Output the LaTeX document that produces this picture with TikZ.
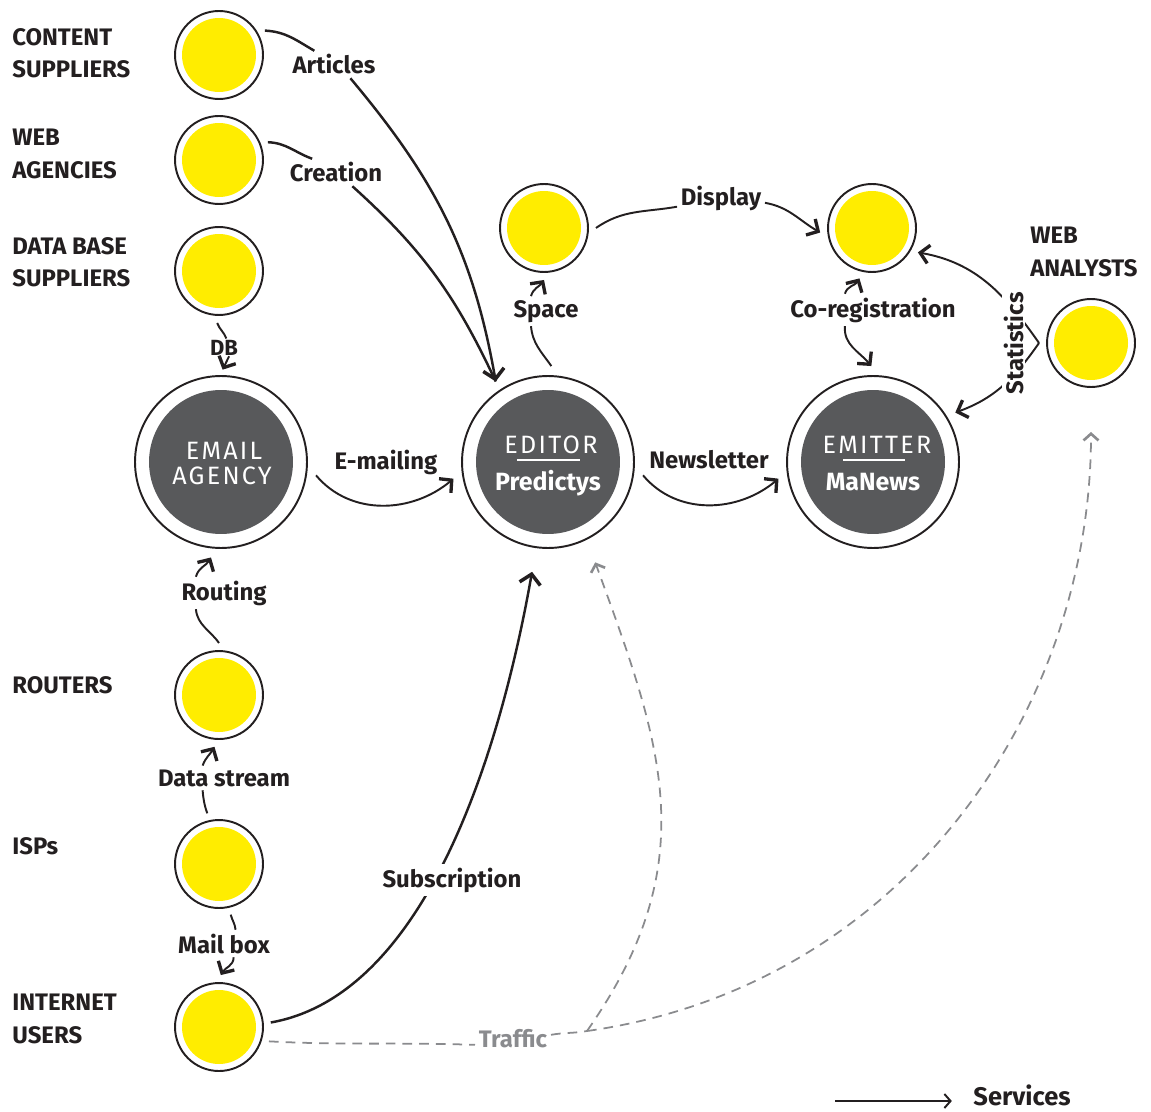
\documentclass[tikz,border=0pt]{standalone}
\usepackage{fontspec}
\setmainfont{Fira Sans}
\usetikzlibrary{arrows.meta}
\definecolor{yel}{HTML}{FFED00}
\definecolor{dk}{HTML}{58595B}
\definecolor{ink}{HTML}{231F20}
\definecolor{gr}{HTML}{8A8B8E}
\tikzset{
  smallnode/.style={circle, draw=ink, line width=1.1pt, fill=white, minimum size=1.76cm, inner sep=0pt, outer sep=0.16cm,
     path picture={\fill[yel] (path picture bounding box.center) circle (0.74cm);}},
  bignode/.style={circle, draw=ink, line width=1.1pt, fill=white, minimum size=3.44cm, inner sep=0pt, outer sep=0.2cm,
     path picture={\fill[dk] (path picture bounding box.center) circle (1.44cm);}},
  grp/.style={font=\bfseries\fontsize{13.6}{18.4}\selectfont, text=ink, align=left, anchor=north west, inner sep=0pt},
  lbl/.style={font=\bfseries\fontsize{13.6}{16}\selectfont, text=ink, inner sep=2pt, anchor=base},
  conn/.style={draw=ink, line width=1.1pt},
  heavy/.style={draw=ink, line width=1.4pt},
  sarr/.style={-{Straight Barb[length=5pt,width=10.5pt,line width=1.9pt]}},
  barr/.style={-{Straight Barb[length=5.5pt,width=12pt,line width=2pt]}},
  garr/.style={-{Straight Barb[length=3.8pt,width=8.5pt,line width=1.5pt]}},
  traffic/.style={draw=gr, line width=1pt, dash pattern=on 5.5pt off 4pt},
  capstxt/.style={text=white, font=\fontsize{14.3}{16}\selectfont\addfontfeatures{LetterSpace=9}, inner sep=0pt, anchor=base},
  brand/.style={text=white, font=\bfseries\fontsize{14.2}{16}\selectfont, inner sep=0pt, anchor=base},
}
\begin{document}
\begin{tikzpicture}[x=0.02cm,y=0.02cm]
\useasboundingbox (0,0) rectangle (1151,-1111);
% ---------- nodes
\node[smallnode] (cs) at (219,-55) {};
\node[smallnode] (wa) at (219,-160) {};
\node[smallnode] (db) at (219,-271) {};
\node[smallnode] (rt) at (219,-695) {};
\node[smallnode] (isp) at (219,-864) {};
\node[smallnode] (iu) at (219,-1027) {};
\node[smallnode] (sp) at (544,-228) {};
\node[smallnode] (dsp) at (872,-228) {};
\node[smallnode] (wan) at (1091,-343) {};
\node[bignode] (ea) at (221,-462) {};
\node[bignode] (ed) at (548,-462) {};
\node[bignode] (em) at (873,-462) {};
% ---------- texts inside big nodes
\node[capstxt] (tEmail) at (224,-459) {EMAIL};
\node[capstxt] (tAgency) at (222,-484) {AGENCY};
\node[capstxt] (tEditor) at (551,-453) {EDITOR};
\node[brand] (tPred) at (548,-490) {Predictys};
\node[capstxt] (tEmitter) at (877,-453) {EMITTER};
\node[brand] (tMaN) at (873,-490) {MaNews};
\draw[white, line width=0.6pt] (517,-460) -- (580,-460);
\draw[white, line width=0.6pt] (843,-460) -- (905,-460);
% ---------- group labels
\node[grp] (gCS) at (12,-28) {CONTENT\\SUPPLIERS};
\node[grp] (gWA) at (12,-129) {WEB\\AGENCIES};
\node[grp] (gDB) at (12,-237) {DATA BASE\\SUPPLIERS};
\node[grp] (gRT) at (12,-676) {ROUTERS};
\node[grp] (gISP) at (12,-837) {ISPs};
\node[grp] (gIU) at (12,-994) {INTERNET\\USERS};
\node[grp] (gWAN) at (1030,-227) {WEB\\ANALYSTS};
% ---------- edge labels
\node[lbl] (lArt) at (334,-74) {Articles};
\node[lbl] (lCr) at (336,-182) {Creation};
\node[lbl] (lDi) at (721,-206) {Display};
\node[lbl] (lSp) at (546,-317) {Space};
\node[lbl] (lCo) at (873,-317) {Co-registration};
\node[lbl] (lEm) at (386,-469) {E-mailing};
\node[lbl] (lNe) at (709,-468) {Newsletter};
\node[lbl] (lRo) at (224,-600) {Routing};
\node[lbl, inner sep=0.5pt, font=\bfseries\fontsize{12.5}{14}\selectfont] (lDB) at (224,-355) {DB};
\node[lbl] (lDs) at (224,-786) {Data stream};
\node[lbl] (lMb) at (224,-953) {Mail box};
\node[lbl, text=gr] (lTr) at (513,-1047) {Traffic};
\node[lbl, inner sep=1pt, font=\bfseries\fontsize{14.5}{16}\selectfont] (lSv) at (1022,-1105) {Services};
% ---------- connectors
% Articles / Creation
\draw[heavy] (cs.28) to[out=-3,in=150] (lArt.145);
\draw[heavy,barr] (lArt.-40) to[out=-50,in=100] (ed.123);
\draw[heavy] (wa.20) to[out=-2,in=160] (lCr.150);
\draw[heavy] (lCr.-40) to[out=-42,in=115] (ed.123);
% DB
\draw[conn] (db.-92) to[out=-70,in=110] (lDB.75);
\draw[conn,sarr,shorten >=-0.08cm] (lDB.-60) -- (ea.88);
% E-mailing / Newsletter
\draw[conn,sarr] (ea.-8) to[out=-50,in=-140] (ed.190);
\draw[conn,sarr] (ed.-8) to[out=-50,in=-140] (em.190);
% Space
\draw[conn] (ed.88) to[out=125,in=-85] (lSp.-135);
\draw[conn,sarr] (lSp.135) to[out=75,in=-125] (sp.-90);
% Display
\draw[conn] (sp.0) to[out=35,in=190] (lDi.190);
\draw[conn,sarr] (lDi.-5) to[out=-10,in=150] (dsp.185);
% Co-registration
\draw[conn,sarr] (lCo.150) to[out=75,in=-120] (dsp.-104);
\draw[conn,sarr] (lCo.-150) to[out=-95,in=130] (em.91);
% Statistics
\draw[conn,sarr] (wan.west) to[out=125,in=-10] (dsp.-28);
\draw[conn,sarr] (wan.west) to[out=-125,in=20] (em.31);
\node[lbl, rotate=90, fill=white, inner sep=1pt] (lSt) at (1023,-343.5) {Statistics};
% Routing / Data stream / Mail box
\draw[conn] (rt.90) to[out=125,in=-85] (lRo.-150);
\draw[conn,sarr] (lRo.150) to[out=75,in=-120] (ea.-96);
\draw[conn] (isp.103) to[out=110,in=-85] (lDs.-150);
\draw[conn,sarr] (lDs.150) to[out=70,in=-120] (rt.-95);
\draw[conn] (isp.-77) to[out=-75,in=95] (lMb.50);
\draw[conn,sarr] (lMb.-55) to[out=-90,in=60] (iu.88);
% Subscription
\draw[heavy,barr,shorten >=0.3cm] (iu.5) to[out=10,in=-100,looseness=0.8] (ed.-98);
\node[lbl, fill=white] (lSu) at (452,-887) {Subscription};
% Traffic
\coordinate (tj) at (587,-1031);
\draw[traffic] (iu.-16) to[out=-3,in=178] (lTr.190);
\draw[traffic] (lTr.5) to[out=10,in=190] (tj);
\draw[traffic,garr,shorten >=0.3cm] (tj) to[out=55,in=-70,looseness=1.1] (ed.-64);
\draw[traffic,garr,shorten >=0.74cm] (tj) to[out=8,in=-90] (wan.south);
% Legend
\coordinate (lg) at (835,-1101);
\draw[conn,-{Straight Barb[length=3.5pt,width=8pt,line width=1.1pt]},shorten >=0.39cm] (lg) -- (lg -| lSv.west);
\end{tikzpicture}
\end{document}
